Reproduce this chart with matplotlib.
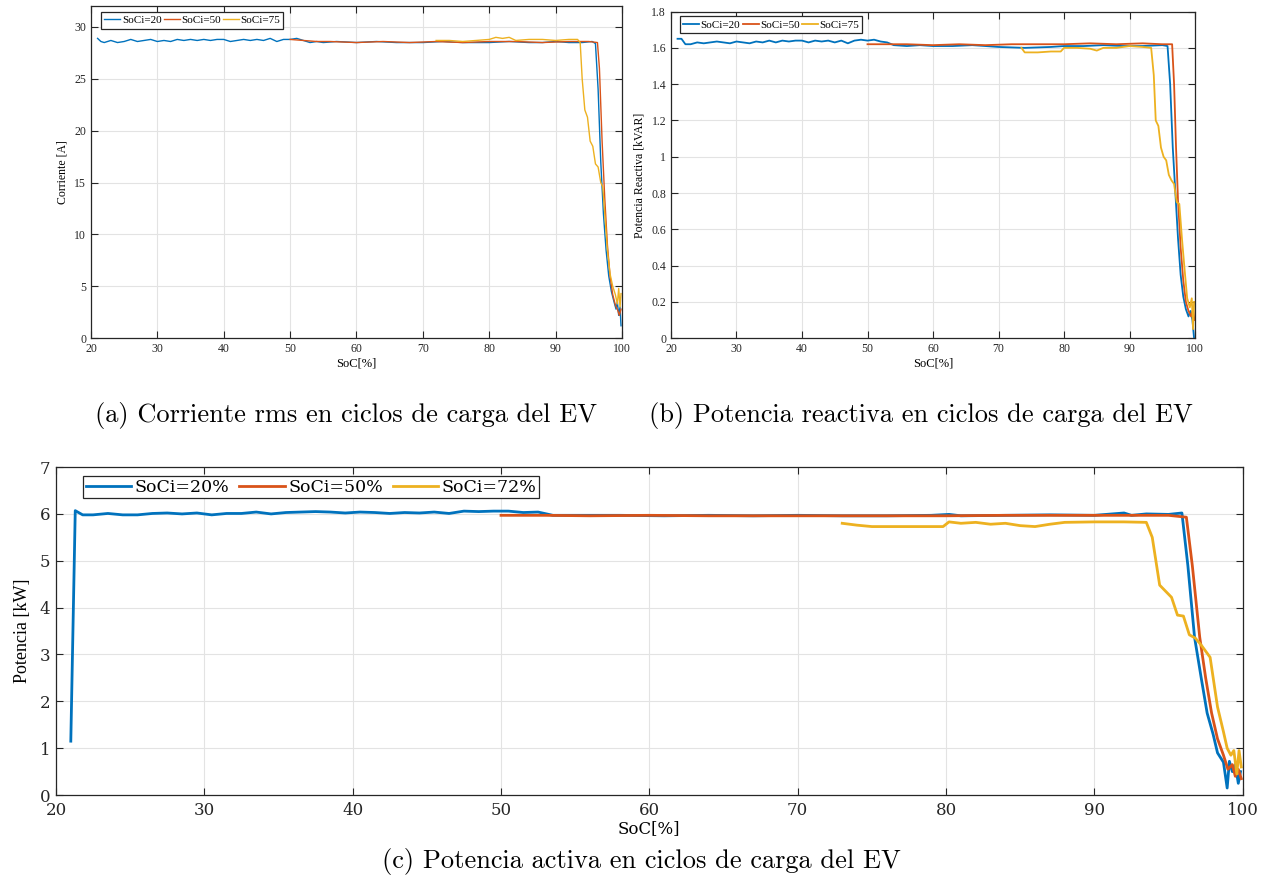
import matplotlib
matplotlib.use("Agg")
import matplotlib.pyplot as plt

BLUE = '#0072BD'
RED = '#D95319'
YEL = '#EDB120'

# ---------------- (a) Corriente rms ----------------
a20_x = [21, 21.5, 22, 23, 24, 25, 26, 27, 28, 29, 30, 31, 32, 33, 34, 35, 36, 37, 38, 39, 40,
         41, 42, 43, 44, 45, 46, 47, 48, 49, 50, 51, 52, 53, 54, 55, 57, 60, 63, 66, 70, 73, 76,
         80, 83, 86, 88, 90, 92, 94, 95.5, 96, 96.4, 96.8, 97.2, 97.6, 98, 98.4, 98.8, 99.1,
         99.3, 99.5, 99.7, 99.85]
a20_y = [28.9, 28.6, 28.5, 28.7, 28.5, 28.6, 28.8, 28.6, 28.7, 28.8, 28.6, 28.7, 28.6, 28.8, 28.7,
         28.8, 28.7, 28.8, 28.7, 28.8, 28.8, 28.6, 28.7, 28.8, 28.7, 28.8, 28.7, 28.9, 28.6, 28.8,
         28.8, 28.9, 28.7, 28.5, 28.6, 28.5, 28.6, 28.5, 28.6, 28.5, 28.5, 28.6, 28.5, 28.5, 28.6,
         28.5, 28.5, 28.6, 28.5, 28.5, 28.6, 28.4, 24, 17, 12, 8.5, 6, 4.5, 3.5, 2.8, 3.5, 2.2, 3.0, 1.2]
a50_x = [50, 52, 54, 56, 60, 64, 68, 72, 76, 80, 84, 88, 92, 95, 96.3, 96.6, 97, 97.4, 97.8, 98.2,
         98.6, 99, 99.3, 99.6, 99.85]
a50_y = [28.8, 28.7, 28.6, 28.6, 28.5, 28.6, 28.5, 28.6, 28.5, 28.6, 28.6, 28.5, 28.6, 28.6, 28.5,
         26, 19, 13.5, 9, 6, 4.2, 3.2, 2.8, 2.2, 2.8]
a75_x = [72, 74, 76, 78, 80, 81, 82, 83, 84, 86, 88, 90, 92, 93.3, 93.7, 94.0, 94.4, 94.8, 95.2,
         95.6, 96.0, 96.4, 96.8, 97.1, 97.4, 97.8, 98.2, 98.6, 99.0, 99.3, 99.5, 99.7, 99.85]
a75_y = [28.7, 28.7, 28.6, 28.7, 28.8, 29.0, 28.9, 29.0, 28.7, 28.8, 28.8, 28.7, 28.8, 28.8, 28.5,
         25, 22, 21.3, 19, 18.5, 16.8, 16.5, 15, 14.6, 12, 8.5, 6.2, 5, 4.2, 3.3, 4.8, 3.0, 4.3]

# ---------------- (b) Potencia reactiva ----------------
b20_x = [21, 21.6, 22.2, 23, 24, 25, 26, 27, 28, 29, 30, 31, 32, 33, 34, 35, 36, 37, 38, 39, 40,
         41, 42, 43, 44, 45, 46, 47, 48, 49, 50, 51, 52, 53, 54, 56, 58, 60, 63, 66, 70, 74, 78,
         80, 83, 86, 89, 92, 95, 95.8, 96.2, 96.6, 97.0, 97.4, 97.8, 98.2, 98.6, 99.0, 99.3,
         99.6, 99.85]
b20_y = [1.65, 1.65, 1.62, 1.62, 1.63, 1.625, 1.63, 1.635, 1.63, 1.625, 1.635, 1.63, 1.625,
         1.635, 1.63, 1.64, 1.63, 1.64, 1.635, 1.64, 1.64, 1.63, 1.64, 1.635, 1.64, 1.63, 1.64,
         1.625, 1.64, 1.645, 1.64, 1.645, 1.635, 1.63, 1.615, 1.61, 1.615, 1.61, 1.61, 1.615,
         1.605, 1.60, 1.605, 1.61, 1.61, 1.615, 1.61, 1.61, 1.615, 1.61, 1.40, 1.05, 0.80,
         0.55, 0.35, 0.23, 0.16, 0.12, 0.15, 0.10, 0.0]
b50_x = [50, 53, 56, 60, 64, 68, 72, 76, 80, 84, 88, 92, 95, 96.5, 96.8, 97.1, 97.4, 97.8, 98.2,
         98.6, 99.0, 99.4, 99.7, 99.9]
b50_y = [1.62, 1.62, 1.62, 1.615, 1.62, 1.615, 1.62, 1.62, 1.62, 1.625, 1.62, 1.625, 1.62, 1.62,
         1.40, 1.05, 0.76, 0.50, 0.32, 0.20, 0.15, 0.12, 0.16, 0.10]
b75_x = [73.5, 74, 76, 78, 79.5, 80, 82, 84, 85, 86, 88, 90, 92, 93.3, 93.7, 94.0, 94.4, 94.8,
         95.2, 95.6, 96.0, 96.4, 96.8, 97.2, 97.6, 98.0, 98.4, 98.8, 99.2, 99.5, 99.7, 99.85]
b75_y = [1.60, 1.575, 1.575, 1.58, 1.58, 1.60, 1.60, 1.595, 1.585, 1.60, 1.60, 1.61, 1.605,
         1.60, 1.45, 1.20, 1.17, 1.05, 1.00, 0.98, 0.90, 0.87, 0.85, 0.75, 0.74, 0.55, 0.38,
         0.22, 0.17, 0.22, 0.05, 0.20]

# ---------------- (c) Potencia activa ----------------
c20_x = [21.0, 21.3, 21.8, 22.5, 23.5, 24.5, 25.5, 26.5, 27.5, 28.5, 29.5, 30.5, 31.5, 32.5,
         33.5, 34.5, 35.5, 36.5, 37.5, 38.5, 39.5, 40.5, 41.5, 42.5, 43.5, 44.5, 45.5, 46.5,
         47.5, 48.5, 49.5, 50.5, 51.5, 52.5, 53.5, 55, 58, 61, 64, 67, 70, 73, 76, 79, 80.2,
         81, 84, 87, 90, 92, 92.5, 93.5, 95, 95.9, 96.3, 96.75, 97.2, 97.6, 98.0, 98.3, 98.7,
         98.95, 99.1, 99.3, 99.5, 99.7, 99.85]
c20_y = [1.15, 6.07, 5.98, 5.98, 6.01, 5.98, 5.98, 6.01, 6.02, 6.00, 6.02, 5.98, 6.01, 6.01,
         6.04, 6.00, 6.03, 6.04, 6.05, 6.04, 6.02, 6.04, 6.03, 6.01, 6.03, 6.02, 6.04, 6.01,
         6.06, 6.05, 6.06, 6.06, 6.03, 6.04, 5.97, 5.97, 5.97, 5.96, 5.97, 5.96, 5.97, 5.96,
         5.96, 5.97, 5.99, 5.96, 5.97, 5.98, 5.97, 6.02, 5.97, 6.00, 5.99, 6.02, 4.9, 3.37,
         2.5, 1.75, 1.3, 0.9, 0.7, 0.15, 0.72, 0.5, 0.65, 0.25, 0.5]
c50_x = [50, 53, 56, 60, 64, 68, 72, 76, 80, 84, 88, 92, 95, 96.2, 96.6, 97.1, 97.5, 97.9, 98.3,
         98.7, 99.0, 99.3, 99.5, 99.7, 99.9]
c50_y = [5.97, 5.97, 5.96, 5.97, 5.96, 5.96, 5.96, 5.96, 5.96, 5.97, 5.97, 5.97, 5.97, 5.93,
         4.9, 3.37, 2.5, 1.75, 1.2, 0.85, 0.55, 0.65, 0.4, 0.55, 0.35]
c75_x = [73, 74, 75, 77, 79, 79.8, 80.2, 81, 82, 83, 84, 85, 86, 87, 88, 90, 92, 93.5, 93.9,
         94.4, 94.8, 95.2, 95.6, 96.0, 96.4, 96.8, 97.2, 97.8, 98.3, 98.7, 98.95, 99.2, 99.4,
         99.6, 99.75, 99.9]
c75_y = [5.80, 5.76, 5.73, 5.73, 5.73, 5.73, 5.83, 5.80, 5.82, 5.78, 5.80, 5.75, 5.73, 5.78,
         5.82, 5.83, 5.83, 5.82, 5.5, 4.48, 4.35, 4.22, 3.84, 3.82, 3.42, 3.35, 3.2, 2.94, 1.88,
         1.35, 1.0, 0.85, 0.95, 0.45, 0.95, 0.6]

fig = plt.figure(figsize=(12.72, 8.9), dpi=100)

times = 'Liberation Serif'
wide = 'DejaVu Serif'
cm = 'cmr10'


def style_axes(ax, fs, fam, xpad=3.5, ypad=3.5):
    ax.grid(True, color='#e3e3e3', linewidth=0.8)
    ax.set_axisbelow(True)
    ax.tick_params(direction='in', top=True, right=True, length=5, width=0.8,
                   labelsize=fs, colors='#262626')
    ax.tick_params(axis='x', pad=xpad)
    ax.tick_params(axis='y', pad=ypad)
    for lab in ax.get_xticklabels() + ax.get_yticklabels():
        lab.set_family(fam)
    for s in ax.spines.values():
        s.set_color('#262626')
        s.set_linewidth(0.9)


small_leg = dict(loc='upper left', ncol=3, prop={'family': times, 'size': 8},
                 handlelength=1.45, handletextpad=0.12, columnspacing=0.2, borderpad=0.3,
                 borderaxespad=0.0, fancybox=False, edgecolor='#262626', framealpha=1)

# (a)
axa = fig.add_axes([0.0715, 0.620, 0.4175, 0.373])
axa.plot(a20_x, a20_y, color=BLUE, lw=1.0, label='SoCi=20')
axa.plot(a50_x, a50_y, color=RED, lw=1.0, label='SoCi=50')
axa.plot(a75_x, a75_y, color=YEL, lw=1.0, label='SoCi=75')
axa.set_xlim(20, 100)
axa.set_ylim(0, 32)
axa.set_xticks([20, 30, 40, 50, 60, 70, 80, 90, 100])
axa.set_yticks([0, 5, 10, 15, 20, 25, 30])
style_axes(axa, 8.5, times)
axa.set_xlabel('SoC[%]', family=times, fontsize=9, labelpad=2)
axa.set_ylabel('Corriente [A]', family=times, fontsize=8.5, labelpad=4)
leg = axa.legend(bbox_to_anchor=(0.019, 0.982), **small_leg)
leg.get_frame().set_linewidth(0.9)

# (b)
axb = fig.add_axes([0.5275, 0.620, 0.412, 0.367])
axb.plot(b20_x, b20_y, color=BLUE, lw=1.3, label='SoCi=20')
axb.plot(b50_x, b50_y, color=RED, lw=1.3, label='SoCi=50')
axb.plot(b75_x, b75_y, color=YEL, lw=1.3, label='SoCi=75')
axb.set_xlim(20, 100)
axb.set_ylim(0, 1.8)
axb.set_xticks([20, 30, 40, 50, 60, 70, 80, 90, 100])
axb.set_yticks([0, 0.2, 0.4, 0.6, 0.8, 1.0, 1.2, 1.4, 1.6, 1.8])
axb.set_yticklabels(['0', '0.2', '0.4', '0.6', '0.8', '1', '1.2', '1.4', '1.6', '1.8'])
style_axes(axb, 8.5, times)
axb.set_xlabel('SoC[%]', family=times, fontsize=9, labelpad=2)
axb.set_ylabel('Potencia Reactiva [kVAR]', family=times, fontsize=8.5, labelpad=4)
leg = axb.legend(bbox_to_anchor=(0.017, 0.985), **small_leg)
leg.get_frame().set_linewidth(0.9)

# (c)
axc = fig.add_axes([0.044, 0.1067, 0.933, 0.3685])
axc.plot(c20_x, c20_y, color=BLUE, lw=2.0, label='SoCi=20%')
axc.plot(c50_x, c50_y, color=RED, lw=2.0, label='SoCi=50%')
axc.plot(c75_x, c75_y, color=YEL, lw=2.0, label='SoCi=72%')
axc.set_xlim(20, 100)
axc.set_ylim(0, 7)
axc.set_xticks([20, 30, 40, 50, 60, 70, 80, 90, 100])
axc.set_yticks([0, 1, 2, 3, 4, 5, 6, 7])
style_axes(axc, 12, wide, xpad=5, ypad=4)
axc.set_xlabel('SoC[%]', family=wide, fontsize=12, labelpad=1)
axc.set_ylabel('Potencia [kW]', family=times, fontsize=13, labelpad=6)
leg = axc.legend(loc='upper left', ncol=3, prop={'family': wide, 'size': 12.5},
                 handlelength=2.6, handletextpad=0.2, columnspacing=0.6, borderpad=0.15,
                 borderaxespad=0.0, fancybox=False, edgecolor='#262626', framealpha=1,
                 bbox_to_anchor=(0.0228, 0.9725))
leg.get_frame().set_linewidth(0.9)

# captions
fig.text(0.272, 0.533, '(a) Corriente rms en ciclos de carga del EV', family=cm, fontsize=19,
         ha='center', va='center')
fig.text(0.724, 0.533, '(b) Potencia reactiva en ciclos de carga del EV', family=cm,
         fontsize=19, ha='center', va='center')
fig.text(0.5045, 0.032, '(c) Potencia activa en ciclos de carga del EV', family=cm,
         fontsize=19, ha='center', va='center')

fig.savefig('out.png', dpi=100)
